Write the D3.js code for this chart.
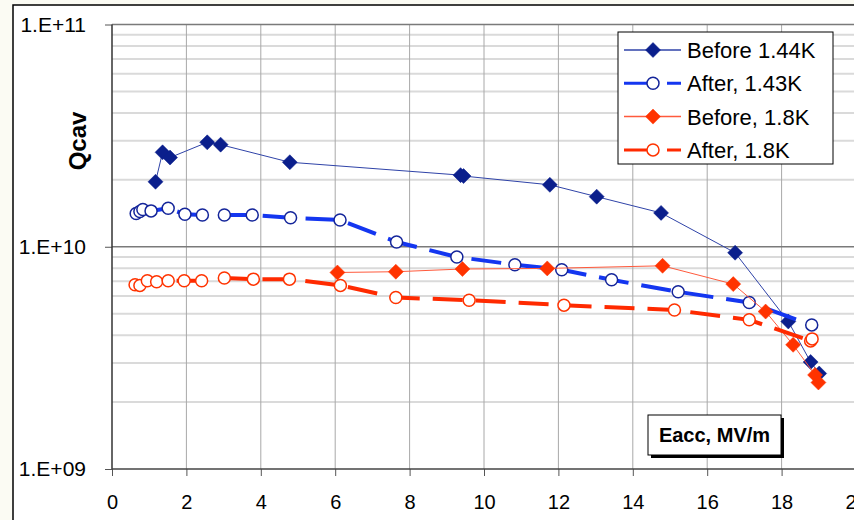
<!DOCTYPE html>
<html>
<head>
<meta charset="utf-8">
<script src="https://cdn.jsdelivr.net/npm/d3@7"></script>
<style>
  html, body { margin: 0; padding: 0; background: #fbfbf3; overflow: hidden; }
  text { font-family: "Liberation Sans", Arial, sans-serif; fill: #000; }
</style>
</head>
<body>
<div id="chartDiv"></div>
<script>
// Eacc (MV/m) and Qcav values
const before144E = [1.17, 1.36, 1.56, 2.56, 2.92, 4.78, 9.37, 9.45, 11.77, 13.03, 14.76, 16.75, 18.18, 18.78, 19.01];
const before144Q = [19.6e9, 26.6e9, 25.2e9, 29.5e9, 28.8e9, 24.0e9, 21.0e9, 20.8e9, 19.0e9, 16.8e9, 14.2e9, 9.4e9, 4.61e9, 3.03e9, 2.69e9];

const after143E = [0.65, 0.75, 0.83, 1.05, 1.51, 1.96, 2.43, 3.02, 3.77, 4.80, 6.13, 7.65, 9.27, 10.83, 12.09, 13.43, 15.22, 17.13, 18.81];
const after143Q = [14.1e9, 14.4e9, 14.7e9, 14.5e9, 14.9e9, 14.0e9, 13.9e9, 13.9e9, 13.9e9, 13.5e9, 13.2e9, 10.5e9, 9.0e9, 8.3e9, 7.88e9, 7.1e9, 6.27e9, 5.61e9, 4.45e9];

const before18E = [6.06, 7.63, 9.42, 11.70, 14.80, 16.70, 17.57, 18.31, 18.90, 18.99];
const before18Q = [7.66e9, 7.72e9, 7.94e9, 7.99e9, 8.21e9, 6.79e9, 5.11e9, 3.62e9, 2.65e9, 2.45e9];

const after18E = [0.62, 0.75, 0.95, 1.20, 1.51, 1.94, 2.41, 3.02, 3.80, 4.77, 6.14, 7.63, 9.60, 12.15, 15.12, 17.13, 18.78, 18.82];
const after18Q = [6.74e9, 6.7e9, 7.03e9, 6.96e9, 7.03e9, 7.03e9, 7.03e9, 7.23e9, 7.15e9, 7.15e9, 6.7e9, 5.91e9, 5.75e9, 5.46e9, 5.19e9, 4.69e9, 3.77e9, 3.85e9];

const seriesNames = ["Before 1.44K", "After, 1.43K", "Before, 1.8K", "After, 1.8K"];
const xTicks = [0, 2, 4, 6, 8, 10, 12, 14, 16, 18, 20];
const yTicks = [1e9, 1e10, 1e11];
const yTickLabels = ["1.E+09", "1.E+10", "1.E+11"];

const width = 854, height = 520;
const margin = {top: 24.5, left: 112, bottom: 51, right: -2};

let svg = d3.select("#chartDiv").append("svg")
    .attr("width", width)
    .attr("height", height);

// chart frame
svg.append("rect")
    .attr("x", 13).attr("y", 5)
    .attr("width", 900).attr("height", 600)
    .style("fill", "#fff").style("stroke", "#000").style("stroke-width", 1.5);

let x = d3.scaleLinear()
    .domain([0, 20])
    .range([margin.left, width - margin.right]);

let y = d3.scaleLog()
    .domain([1e9, 1e11])
    .range([height - margin.bottom, margin.top]);

// minor horizontal grid
let minor = [];
[1e9, 1e10].forEach(d => { for (let k = 2; k <= 9; k++) minor.push(d * k); });
svg.append("g").selectAll("line")
    .data(minor).enter().append("line")
    .attr("x1", x(0)).attr("x2", width)
    .attr("y1", d => y(d)).attr("y2", d => y(d))
    .style("stroke", "#dadada").style("stroke-width", 2);

// vertical grid
svg.append("g").selectAll("line")
    .data(xTicks.slice(1)).enter().append("line")
    .attr("x1", d => x(d)).attr("x2", d => x(d))
    .attr("y1", y(1e11)).attr("y2", y(1e9))
    .style("stroke", "#a8a8a8").style("stroke-width", 1);

// major horizontal grid
svg.append("g").selectAll("line")
    .data([1e10, 1e11]).enter().append("line")
    .attr("x1", x(0)).attr("x2", width)
    .attr("y1", d => y(d)).attr("y2", d => y(d))
    .style("stroke", "#7a7a7a").style("stroke-width", 1.5);

// axes
let yAxis = d3.axisLeft(y)
    .tickValues(yTicks)
    .tickSize(7)
    .tickPadding(19)
    .tickFormat((d, i) => yTickLabels[i]);

svg.append("g")
    .attr("class", "axis yAxis")
    .attr("transform", `translate(${x(0)},0)`)
    .call(yAxis)
    .call(g => g.select(".domain").remove())
    .call(g => g.selectAll(".tick line").style("stroke", "#555"))
    .call(g => g.selectAll("text").style("font-size", "21px").attr("fill", "#000"));

svg.append("line")
    .attr("x1", x(0)).attr("x2", x(0))
    .attr("y1", y(1e11)).attr("y2", y(1e9))
    .style("stroke", "#333").style("stroke-width", 1.5);

let xAxis = d3.axisBottom(x)
    .tickValues(xTicks)
    .tickSize(7)
    .tickPadding(19)
    .tickFormat(d3.format("d"));

svg.append("g")
    .attr("class", "axis xAxis")
    .attr("transform", `translate(0,${y(1e9)})`)
    .call(xAxis)
    .call(g => g.select(".domain").remove())
    .call(g => g.selectAll(".tick line").style("stroke", "#555"))
    .call(g => g.selectAll("text").style("font-size", "20px").attr("fill", "#000"));

svg.append("line")
    .attr("x1", x(0)).attr("x2", width)
    .attr("y1", y(1e9)).attr("y2", y(1e9))
    .style("stroke", "#444").style("stroke-width", 1.5);

// series
const series = [
    {E: before144E, Q: before144Q, line: "#2f43a8", lw: 1, dash: null, marker: "diamond", fill: "#0b1f8c", stroke: "#0b1f8c"},
    {E: after143E, Q: after143Q, line: "#1436f0", lw: 4, dash: "30,13", marker: "circle", fill: "#fff", stroke: "#14259a"},
    {E: before18E, Q: before18Q, line: "#ff5a3c", lw: 1, dash: null, marker: "diamond", fill: "#ff3300", stroke: "#ff3300"},
    {E: after18E, Q: after18Q, line: "#ff2a00", lw: 4, dash: "30,13", marker: "circle", fill: "#fff", stroke: "#ff3300"}
];

const diamond = "M0,-7.5L7.5,0L0,7.5L-7.5,0Z";

let line = d3.line().x(d => x(d[0])).y(d => y(d[1]));

function drawMarker(sel, s) {
    if (s.marker === "diamond") {
        sel.append("path").attr("d", diamond)
            .style("fill", s.fill).style("stroke", s.stroke).style("stroke-width", 0.5);
    } else {
        sel.append("circle").attr("r", 6)
            .style("fill", s.fill).style("stroke", s.stroke).style("stroke-width", 1.5);
    }
}

series.forEach(s => {
    let pts = s.E.map((e, i) => [e, s.Q[i]]);
    svg.append("path")
        .datum(pts)
        .attr("d", line)
        .style("fill", "none")
        .style("stroke", s.line)
        .style("stroke-width", s.lw)
        .style("stroke-dasharray", s.dash);
    svg.append("g").selectAll("g")
        .data(pts).enter().append("g")
        .attr("transform", d => `translate(${x(d[0])},${y(d[1])})`)
        .each(function () { drawMarker(d3.select(this), s); });
});

// y title
svg.append("text")
    .attr("transform", "translate(86,141) rotate(-90)")
    .style("text-anchor", "middle")
    .style("font-size", "24px")
    .style("font-weight", "bold")
    .text("Qcav");

// legend
let legend = svg.append("g").attr("transform", "translate(618,32)");
legend.append("rect")
    .attr("width", 215).attr("height", 132)
    .style("fill", "#fff").style("stroke", "#000").style("stroke-width", 1);

seriesNames.forEach((name, i) => {
    let s = series[i];
    let g = legend.append("g").attr("transform", `translate(0,${18 + i * 33.3})`);
    g.append("line")
        .attr("x1", 6).attr("x2", 63)
        .style("stroke", s.line)
        .style("stroke-width", s.lw === 1 ? 1.5 : 3)
        .style("stroke-dasharray", s.dash ? "24,19,15" : null);
    let m = g.append("g").attr("transform", "translate(35,0)");
    drawMarker(m, s);
    g.append("text")
        .attr("x", 69).attr("dy", "0.36em")
        .style("font-size", "22px")
        .text(name);
});

// x title box
let xt = svg.append("g").attr("transform", "translate(648,415)");
xt.append("rect")
    .attr("x", 3).attr("y", 3).attr("width", 133).attr("height", 40)
    .style("fill", "#000");
xt.append("rect")
    .attr("width", 133).attr("height", 40)
    .style("fill", "#fff").style("stroke", "#000").style("stroke-width", 1);
xt.append("text")
    .attr("x", 66.5).attr("y", 20).attr("dy", "0.36em")
    .style("text-anchor", "middle")
    .style("font-size", "20px")
    .style("font-weight", "bold")
    .text("Eacc, MV/m");
</script>
</body>
</html>
